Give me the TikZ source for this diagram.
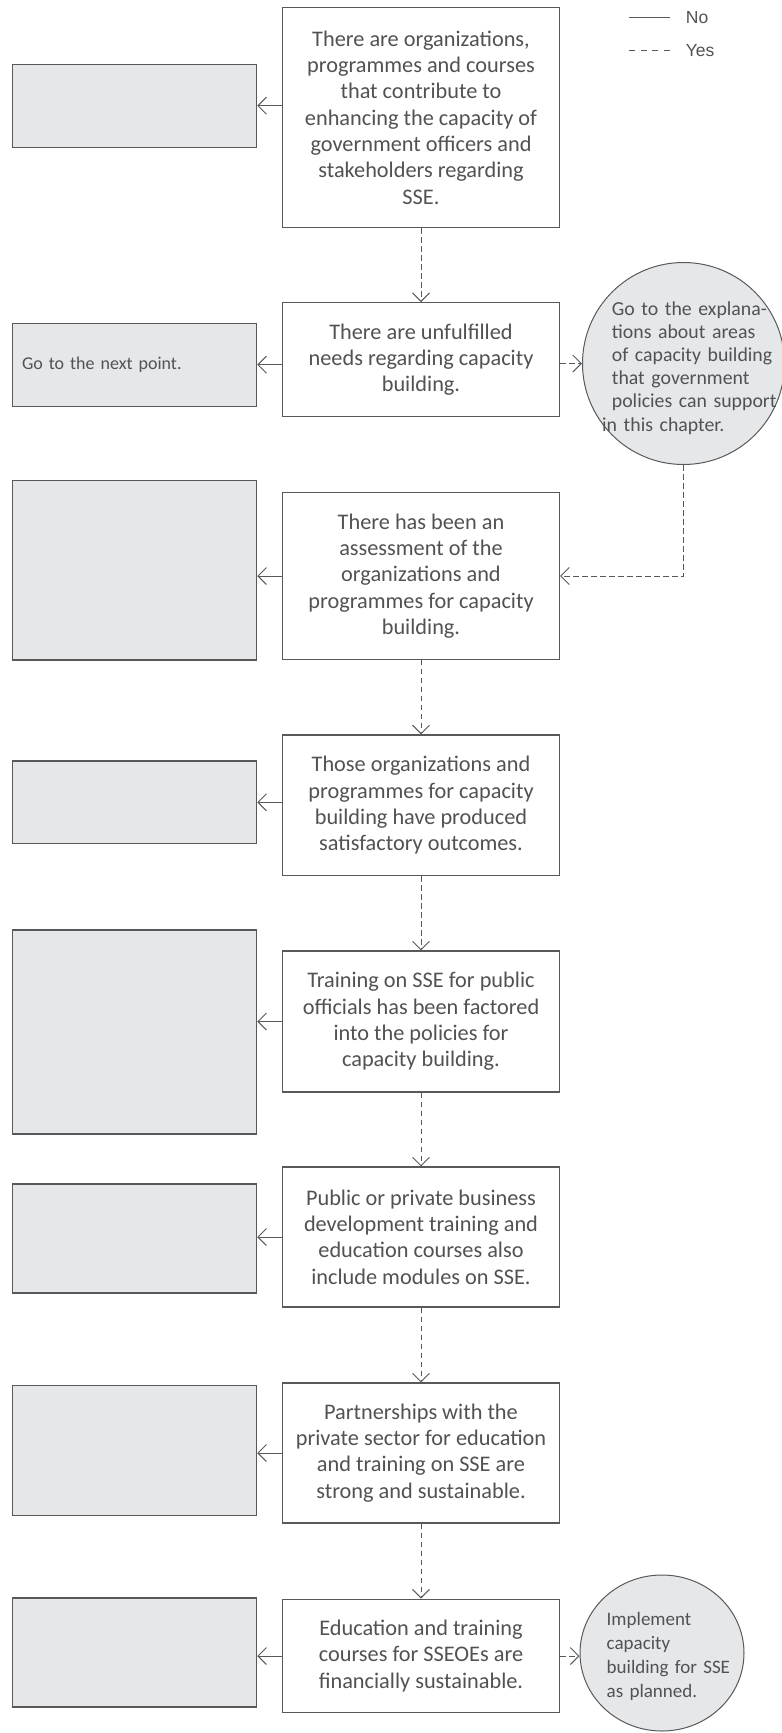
\documentclass[tikz,border=0pt]{standalone}
\usepackage{fontspec}
\setmainfont{Carlito}
\newfontfamily\legendfont{Liberation Sans}
\usetikzlibrary{arrows.meta,shapes.geometric}
\definecolor{ln}{HTML}{58595B}
\definecolor{txt}{HTML}{515254}
\definecolor{gfill}{HTML}{E6E7E8}
\begin{document}
\begin{tikzpicture}[x=1pt,y=-1pt,
  mainbox/.style={draw=ln, line width=1.1pt, fill=white, minimum width=277pt, inner sep=0pt, align=center, text=txt, font=\fontsize{22.3}{26.3}\selectfont},
  graybox/.style={draw=ln, line width=1.1pt, fill=gfill, minimum width=244.4pt, inner sep=0pt},
  circ/.style={draw=ln, line width=1pt, fill=gfill, ellipse, inner sep=0pt},
  circtext/.style={anchor=west, inner sep=0pt, align=left, text=txt},
  noline/.style={draw=ln, line width=1pt, -{Straight Barb[length=8.5pt,width=17pt]}},
  yesline/.style={noline, dash pattern=on 5.5pt off 3.5pt},
  legtext/.style={anchor=west, inner sep=0pt, text=txt, text height=12.5pt, text depth=0pt, font=\legendfont\fontsize{17.5}{20}\selectfont},
  legline/.style={draw=ln, line width=1pt}
]
\useasboundingbox (0,0) rectangle (782,1733);

% legend
\node[legtext] (lno) at (685.7,17.5) {No};
\node[legtext] (lyes) at (685.7,50) {Yes};
\draw[legline] ([xshift=-56.7pt]lno.west) -- ([xshift=-15.7pt]lno.west);
\draw[legline, dash pattern=on 6pt off 5.67pt] ([xshift=-56.7pt]lyes.west) -- ([xshift=-15.7pt]lyes.west);

% main boxes
\node[mainbox, minimum height=220.4pt] (main1) at (421,117.5) {There are organizations,\\ programmes and courses\\ that contribute to\\ enhancing the capacity of\\ government officers and\\ stakeholders regarding\\ SSE.};
\node[mainbox, minimum height=114pt] (main2) at (421,359.7) {There are unfulfilled\\ needs regarding capacity\\ building.};
\node[mainbox, minimum height=166.6pt] (main3) at (421,576) {There has been an\\ assessment of the\\ organizations and\\ programmes for capacity\\ building.};
\node[mainbox, minimum height=140.7pt] (main4) at (421,805.3) {Those organizations and\\ programmes for capacity\\ building have produced\\ satisfactory outcomes.};
\node[mainbox, minimum height=141pt] (main5) at (421,1021.5) {Training on SSE for public\\ officials has been factored\\ into the policies for\\ capacity building.};
\node[mainbox, minimum height=140pt] (main6) at (421,1237) {Public or private business\\ development training and\\ education courses also\\ include modules on SSE.};
\node[mainbox, minimum height=140pt] (main7) at (421,1453) {Partnerships with the\\ private sector for education\\ and training on SSE are\\ strong and sustainable.};
\node[mainbox, minimum height=113.7pt] (main8) at (421,1656) {Education and training\\ courses for SSEOEs are\\ financially sustainable.};

% grey boxes
\node[graybox, minimum height=82.7pt] (left1) at (134.5,105.7) {};
\node[graybox, minimum height=82.7pt, text width=225pt, inner xsep=9.7pt, align=left, text=txt, font=\fontsize{18}{22}\selectfont] (left2) at (134.5,364.7) {Go to the next point.};
\node[graybox, minimum height=179.3pt] (left3) at (134.5,570.3) {};
\node[graybox, minimum height=82.7pt] (left4) at (134.5,802.3) {};
\node[graybox, minimum height=204pt] (left5) at (134.5,1032) {};
\node[graybox, minimum height=109pt] (left6) at (134.5,1238.5) {};
\node[graybox, minimum height=130pt] (left7) at (134.5,1450.7) {};
\node[graybox, minimum height=109pt] (left8) at (134.5,1652.5) {};

% circles
\node[circ, minimum width=202pt, minimum height=202pt] (circ1) at (683.5,363.5) {};
\node[circtext, text width=200pt, font=\fontsize{19.8}{23.1}\selectfont] (circ1t) at (611.7,368) {Go to the explana-\\ tions about areas\\ of capacity building\\ that government\\ policies can support\\ \hspace*{-9.7pt}in this chapter.};
\node[circ, minimum width=164pt, minimum height=156pt] (circ2) at (662,1653) {};
\node[circtext, text width=160pt, font=\fontsize{19}{24.2}\selectfont] (circ2t) at (606.5,1656.3) {Implement\\ capacity\\ building for SSE\\ as planned.};

% "no" connectors
\draw[noline] (main1.west |- left1.east) -- (left1.east);
\draw[noline] (main2.west |- left2.east) -- (left2.east);
\draw[noline] (main3.west) -- (main3.west -| left3.east);
\draw[noline] (main4.west |- left4.east) -- (left4.east);
\draw[noline] (main5.west) -- (main5.west -| left5.east);
\draw[noline] (main6.west) -- (main6.west -| left6.east);
\draw[noline] (main7.west) -- (main7.west -| left7.east);
\draw[noline] (main8.west) -- (main8.west -| left8.east);

% "yes" connectors
\draw[yesline] (main1.south) -- (main2.north);
\draw[yesline] (main2.east |- circ1.west) -- (circ1.west);
\draw[yesline] (circ1.south) |- (main3.east);
\draw[yesline] (main3.south) -- (main4.north);
\draw[yesline] (main4.south) -- (main5.north);
\draw[yesline] (main5.south) -- (main6.north);
\draw[yesline] (main6.south) -- (main7.north);
\draw[yesline] (main7.south) -- (main8.north);
\draw[yesline] (main8.east) -- (main8.east -| circ2.west);
\end{tikzpicture}
\end{document}
